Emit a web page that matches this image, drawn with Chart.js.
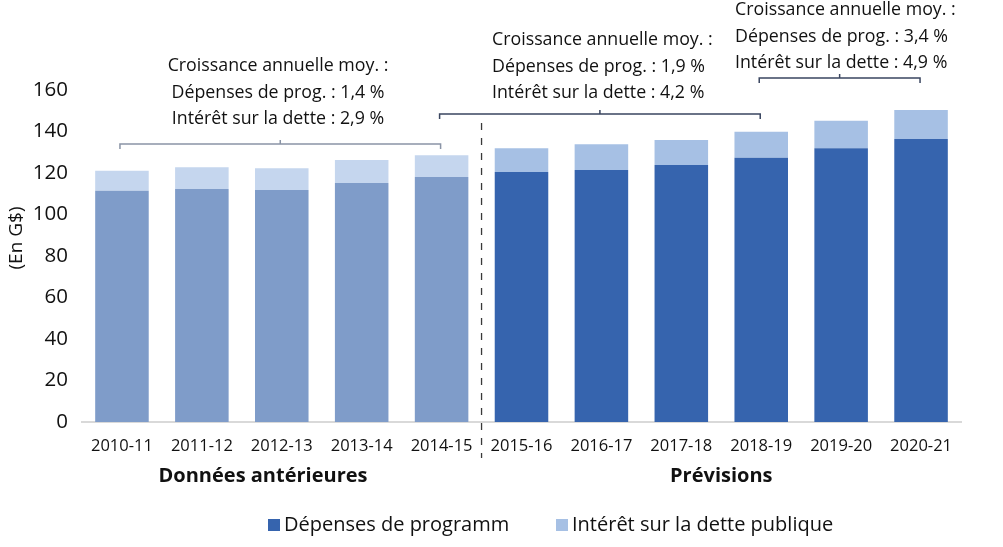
<!DOCTYPE html>
<html>
<head>
<meta charset="utf-8">
<script src="https://cdn.jsdelivr.net/npm/chart.js@4.4.1/dist/chart.umd.min.js"></script>
<style>
  html, body { margin: 0; padding: 0; background: #fff; }
  canvas { display: block; }
</style>
</head>
<body>
<canvas id="myChart" width="1003" height="547"></canvas>
<script>
// data (G$)
const categories = ['2010-11', '2011-12', '2012-13', '2013-14', '2014-15',
  '2015-16', '2016-17', '2017-18', '2018-19', '2019-20', '2020-21'];
const programSpending = [111.4, 112.3, 111.8, 115.2, 118.1, 120.5, 121.5, 123.9, 127.3, 131.9, 136.4];
const debtInterest = [9.7, 10.5, 10.5, 11.1, 10.4, 11.4, 12.3, 12.0, 12.6, 13.3, 14.0];
const legendLabels = ['Dépenses de programm', 'Intérêt sur la dette publique'];
const forecastStart = '2015-16';
const yMin = 0;
const yMax = 160;
const yStep = 20;
const yTitle = '(En G$)';
const periodLabels = ['Données antérieures', 'Prévisions'];
const growthNotes = [
  ['Croissance annuelle moy. :', 'Dépenses de prog. : 1,4 %', 'Intérêt sur la dette : 2,9 %'],
  ['Croissance annuelle moy. :', 'Dépenses de prog. : 1,9 %', 'Intérêt sur la dette : 4,2 %'],
  ['Croissance annuelle moy. :', 'Dépenses de prog. : 3,4 %', 'Intérêt sur la dette : 4,9 %']
];
const bracketRanges = [['2010-11', '2014-15'], ['2014-15', '2018-19'], ['2018-19', '2020-21']];

const FONT = '"Open Sans", "Noto Sans", sans-serif';
const splitIdx = categories.indexOf(forecastStart);
const colors = {
  progHist: '#7f9cc9', progFc: '#3664ae',
  intHist: '#c5d6ee', intFc: '#a6c0e4'
};

const extras = {
  id: 'extras',
  afterDraw(chart) {
    const c = chart.ctx;
    const x = chart.scales.x;
    c.save();

    // dashed separator between history and forecast
    const sepX = (x.getPixelForValue(splitIdx - 1) + x.getPixelForValue(splitIdx)) / 2;
    c.strokeStyle = '#3a3a3a';
    c.lineWidth = 1.3;
    c.setLineDash([7, 8]);
    c.beginPath();
    c.moveTo(sepX, 123);
    c.lineTo(sepX, 458);
    c.stroke();
    c.setLineDash([]);

    // brackets
    const bracketY = [144, 114, 78];
    const bracketCol = ['#8a94a6', '#3a4660', '#3a4660'];
    bracketRanges.forEach((r, i) => {
      const x1 = x.getPixelForValue(categories.indexOf(r[0])) - 2;
      const x2 = x.getPixelForValue(categories.indexOf(r[1])) - 1;
      const by = bracketY[i];
      const mid = (x1 + x2) / 2;
      c.strokeStyle = bracketCol[i];
      c.lineWidth = 1.5;
      c.beginPath();
      c.moveTo(x1, by + 5);
      c.lineTo(x1, by);
      c.lineTo(x2, by);
      c.lineTo(x2, by + 5);
      c.moveTo(mid, by);
      c.lineTo(mid, by - 4);
      c.stroke();
    });

    // growth notes
    c.fillStyle = '#111';
    c.font = '17.8px ' + FONT;
    c.textBaseline = 'middle';
    const notePos = [
      { x: 278, y: 66, align: 'center' },
      { x: 492, y: 40, align: 'left' },
      { x: 735, y: 10, align: 'left' }
    ];
    growthNotes.forEach((lines, i) => {
      c.textAlign = notePos[i].align;
      lines.forEach((t, j) => c.fillText(t, notePos[i].x, notePos[i].y + j * 26.5));
    });

    // period labels
    c.font = 'bold 20px ' + FONT;
    c.textAlign = 'center';
    c.fillText(periodLabels[0], 263, 476);
    c.fillText(periodLabels[1], x.getPixelForValue((splitIdx + categories.length - 1) / 2), 476);

    // y title
    c.font = '19px ' + FONT;
    c.translate(17, 238);
    c.rotate(-Math.PI / 2);
    c.fillText(yTitle, 0, 0);
    c.setTransform(1, 0, 0, 1, 0, 0);

    // legend
    const legX = [268, 556];
    c.font = '20px ' + FONT;
    c.textAlign = 'left';
    chart.data.datasets.forEach((ds, i) => {
      c.fillStyle = ds.legendColor;
      c.fillRect(legX[i], 519, 12, 12);
      c.fillStyle = '#111';
      c.fillText(ds.label, legX[i] + 16, 525);
    });
    c.restore();
  }
};

new Chart(document.getElementById('myChart'), {
  type: 'bar',
  data: {
    labels: categories,
    datasets: [{
      label: legendLabels[0],
      data: programSpending,
      backgroundColor: (ctx) => ctx.dataIndex < splitIdx ? colors.progHist : colors.progFc,
      legendColor: colors.progFc
    }, {
      label: legendLabels[1],
      data: debtInterest,
      backgroundColor: (ctx) => ctx.dataIndex < splitIdx ? colors.intHist : colors.intFc,
      legendColor: colors.intFc
    }]
  },
  options: {
    responsive: false,
    animation: false,
    layout: { padding: { top: 90, right: 42, left: 0, bottom: 0 } },
    datasets: { bar: { categoryPercentage: 1, barPercentage: 0.67, borderWidth: 0 } },
    plugins: {
      legend: { display: false },
      tooltip: { enabled: false }
    },
    scales: {
      x: {
        stacked: true,
        grid: { display: false, drawTicks: false },
        border: { display: true, color: '#d9d9d9', width: 2 },
        ticks: { font: { family: FONT, size: 16.5 }, color: '#111', padding: 14, maxRotation: 0, autoSkip: false },
        afterFit(scale) { scale.height = 125; }
      },
      y: {
        stacked: true,
        min: yMin,
        max: yMax,
        grid: { display: false, drawTicks: false },
        border: { display: false },
        ticks: { stepSize: yStep, font: { family: FONT, size: 20.5 }, color: '#111', padding: 14 },
        afterFit(scale) { scale.width = 82; }
      }
    }
  },
  plugins: [extras]
});
</script>
</body>
</html>
